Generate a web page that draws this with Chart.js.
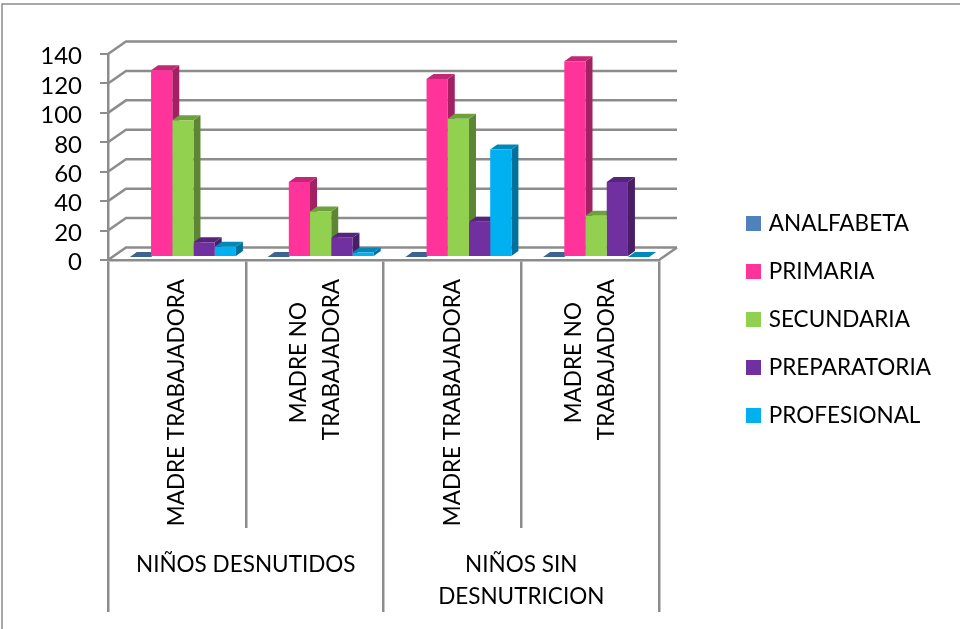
<!DOCTYPE html>
<html>
<head>
<meta charset="utf-8">
<style>
    html, body { margin: 0; padding: 0; background: #fff; }
    canvas { display: block; }
</style>
<script src="https://cdn.jsdelivr.net/npm/chart.js@4"></script>
</head>
<body>
<canvas id="myChart" width="960" height="629"></canvas>
<script>
var categories = ['MADRE TRABAJADORA', ['MADRE NO\u00a0\u00a0\u00a0\u00a0', 'TRABAJADORA'], 'MADRE TRABAJADORA', ['MADRE NO\u00a0\u00a0\u00a0\u00a0', 'TRABAJADORA']];
var groups = ['NIÑOS DESNUTIDOS', ['NIÑOS SIN', 'DESNUTRICION']];
var analfabeta = [0, 0, 0, 0];
var primaria = [127, 51, 121, 133];
var secundaria = [93, 31, 94, 28];
var preparatoria = [10, 13, 24, 51];
var profesional = [7, 3, 73, 0];
var seriesNames = ['ANALFABETA', 'PRIMARIA', 'SECUNDARIA', 'PREPARATORIA', 'PROFESIONAL'];
var seriesColors = ['#4f81bd', '#ff3399', '#92d050', '#7030a0', '#00b0f0'];

var lineColor = '#8c8c8c';
var fontName = 'Lato';

function shade(hex, f) {
    var n = parseInt(hex.slice(1), 16);
    return 'rgb(' + Math.round((n >> 16) * f) + ',' + Math.round(((n >> 8) & 255) * f) + ',' + Math.round((n & 255) * f) + ')';
}

function poly(ctx, pts, fill) {
    ctx.beginPath();
    ctx.moveTo(pts[0], pts[1]);
    for (var i = 2; i < pts.length; i += 2) ctx.lineTo(pts[i], pts[i + 1]);
    ctx.closePath();
    ctx.fillStyle = fill;
    ctx.fill();
}

// square legend swatch, drawn wider than the box the legend reserves for it
function swatch(color) {
    var c = document.createElement('canvas');
    c.width = 15;
    c.height = 15;
    var g = c.getContext('2d');
    g.fillStyle = color;
    g.fillRect(0, 0, 15, 15);
    return c;
}

// excel style 3d look: frame, back wall, floor and the bar sides
var frame3d = {
    id: 'frame3d',
    afterLayout: function(chart) {
        var legend = chart.legend;
        legend.left = 724;
        legend.right = 960;
        legend.top = 186.5;
        legend.bottom = 629;
    },
    beforeDraw: function(chart) {
        var ctx = chart.ctx;
        ctx.save();
        ctx.strokeStyle = lineColor;
        ctx.lineWidth = 1.5;
        ctx.beginPath();
        ctx.moveTo(2, 629);
        ctx.lineTo(2, 4);
        ctx.lineTo(960, 4);
        ctx.stroke();
        ctx.restore();
        // two line rotated labels start at the tick, centre them on it like the single ones
        chart.scales.x.getLabelItems().forEach(function(item) {
            if (Array.isArray(item.label)) item.options.translation[0] -= 16;
        });
    },
    beforeDatasetsDraw: function(chart) {
        var ctx = chart.ctx, area = chart.chartArea, yScale = chart.scales.y;
        var wallX = 18, wallY = 12.5;
        ctx.save();
        ctx.strokeStyle = lineColor;
        ctx.lineWidth = 2.5;
        yScale.ticks.forEach(function(t) {
            var y = yScale.getPixelForValue(t.value);
            ctx.beginPath();
            ctx.moveTo(area.left, y);
            ctx.lineTo(area.left + wallX, y - wallY);
            ctx.lineTo(area.right + wallX, y - wallY);
            ctx.stroke();
        });
        ctx.beginPath();
        ctx.moveTo(area.right, area.bottom);
        ctx.lineTo(area.right + wallX, area.bottom - wallY);
        ctx.stroke();
        ctx.restore();

        // bars sit in the middle of the floor; left translated until afterDatasetsDraw
        ctx.save();
        ctx.translate(6, -3);
        var dx = 7, dy = -5;
        chart.data.datasets.forEach(function(ds, i) {
            chart.getDatasetMeta(i).data.forEach(function(bar) {
                var p = bar.getProps(['x', 'y', 'base', 'width'], true);
                var l = p.x - p.width / 2, r = p.x + p.width / 2;
                if (p.base > p.y) {
                    poly(ctx, [r, p.y, r + dx, p.y + dy, r + dx, p.base + dy, r, p.base], shade(ds.backgroundColor, 0.64));
                }
                poly(ctx, [l, p.y, l + dx, p.y + dy, r + dx, p.y + dy, r, p.y], shade(ds.backgroundColor, 0.77));
            });
        });
    },
    afterDatasetsDraw: function(chart) {
        chart.ctx.restore();
    }
};

var chr = document.getElementById('myChart').getContext('2d');
var myChart = new Chart(chr, {
    type: 'bar',
    plugins: [frame3d],
    data: {
        labels: categories,
        datasets: [analfabeta, primaria, secundaria, preparatoria, profesional].map(function(values, i) {
            return {
                label: seriesNames[i],
                data: values,
                backgroundColor: seriesColors[i],
                borderWidth: 0,
                categoryPercentage: 0.77,
                barPercentage: 1
            };
        })
    },
    options: {
        responsive: false,
        animation: false,
        layout: {
            padding: { top: 54, right: 201, bottom: 17, left: 0 }
        },
        plugins: {
            tooltip: { enabled: false },
            legend: {
                position: 'right',
                align: 'start',
                maxWidth: 100,
                labels: {
                    usePointStyle: true,
                    pointStyleWidth: 8,
                    padding: 25.5,
                    color: '#000',
                    font: { family: fontName, size: 22.5 },
                    generateLabels: function(chart) {
                        return Chart.defaults.plugins.legend.labels.generateLabels(chart).map(function(item, i) {
                            item.pointStyle = swatch(seriesColors[i]);
                            return item;
                        });
                    }
                }
            }
        },
        scales: {
            x: {
                weight: 0,
                afterFit: function(scale) { scale.height = 268; },
                border: { color: lineColor, width: 2.5 },
                grid: { color: lineColor, lineWidth: 2.5, drawOnChartArea: false, tickLength: 268 },
                ticks: {
                    minRotation: 90,
                    maxRotation: 90,
                    autoSkip: false,
                    padding: -249,
                    color: '#000',
                    font: { family: fontName, size: 22.5, lineHeight: 1.45 }
                }
            },
            x2: {
                type: 'category',
                axis: 'x',
                position: 'bottom',
                weight: 1,
                offset: true,
                labels: groups,
                afterFit: function(scale) { scale.height = 84; },
                border: { display: false },
                grid: { color: lineColor, lineWidth: 2.5, offset: true, drawOnChartArea: false, tickLength: 84 },
                ticks: {
                    minRotation: 0,
                    maxRotation: 0,
                    autoSkip: false,
                    padding: -64,
                    color: '#000',
                    font: { family: fontName, size: 22.5, lineHeight: 1.45 }
                }
            },
            y: {
                min: 0,
                max: 140,
                afterFit: function(scale) { scale.width = 108; },
                border: { color: lineColor, width: 2.5 },
                grid: { color: lineColor, lineWidth: 2, drawOnChartArea: false, tickLength: 8 },
                ticks: {
                    stepSize: 20,
                    autoSkip: false,
                    padding: 18,
                    labelOffset: 2.5,
                    color: '#000',
                    font: { family: fontName, size: 24 }
                }
            }
        }
    }
});
</script>
</body>
</html>
